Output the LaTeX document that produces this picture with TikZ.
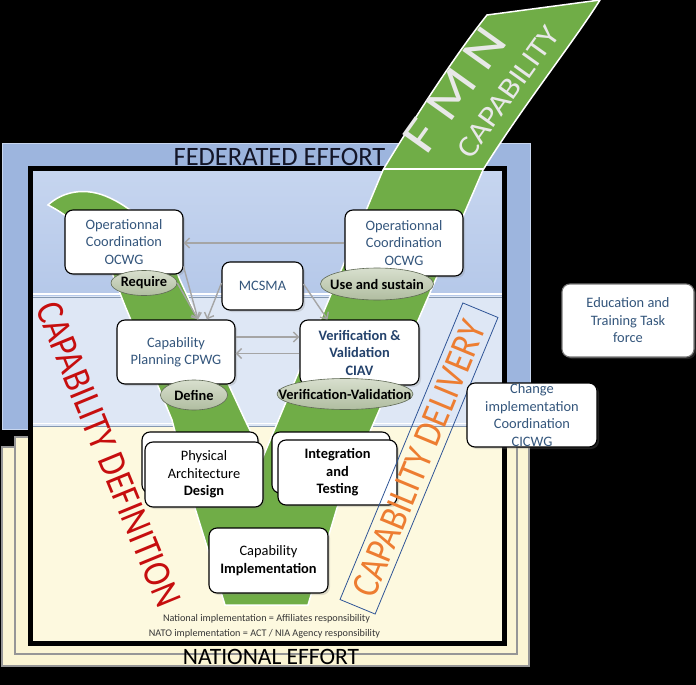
\documentclass[tikz,border=0pt]{standalone}
\usepackage{fontspec}
\setmainfont{Carlito}
\usetikzlibrary{arrows.meta,shapes.geometric,shadows,calc}
\definecolor{vgreen}{RGB}{112,173,71}
\definecolor{fedblue}{RGB}{157,181,222}
\definecolor{fededge}{RGB}{200,214,238}
\definecolor{topblueA}{RGB}{198,213,239}
\definecolor{topblueB}{RGB}{181,200,233}
\definecolor{bandblue}{RGB}{222,231,245}
\definecolor{creamin}{RGB}{253,249,223}
\definecolor{creamout}{RGB}{251,245,212}
\definecolor{panelgray}{RGB}{150,150,150}
\definecolor{sepc}{RGB}{132,151,176}
\definecolor{arrgray}{RGB}{165,165,165}
\definecolor{tblue}{RGB}{52,86,124}
\definecolor{tblueb}{RGB}{36,66,108}
\definecolor{capred}{RGB}{198,14,14}
\definecolor{caporange}{RGB}{237,125,49}
\definecolor{delborder}{RGB}{47,85,151}
\definecolor{ellA}{RGB}{216,223,206}
\definecolor{ellB}{RGB}{176,189,160}
\definecolor{fmnwhite}{RGB}{232,232,232}
\newcommand\bxfont{\fontsize{14.4}{17.5}\selectfont}
\begin{document}
\begin{tikzpicture}[x=1pt,y=-1pt,
  box/.style={draw=black, line width=1.1pt, fill=white, rounded corners=8pt,
    align=center, inner sep=1pt, font=\bxfont,
    drop shadow={opacity=0.25, shadow xshift=2pt, shadow yshift=-2pt}},
  ell/.style={ellipse, draw={rgb,255:red,95;green,105;blue,85}, line width=0.6pt,
    top color=ellA, bottom color=ellB, inner sep=0pt},
  elltxt/.style={font=\bxfont\bfseries, text=black, inner sep=0pt},
  arr/.style={draw=arrgray, line width=1.4pt, -{Straight Barb[length=5pt,width=10pt]}},
  bigtxt/.style={inner sep=0pt}]
\useasboundingbox (0,0) rectangle (696,685);
\fill[black] (0,0) rectangle (696,685);
% national effort panels
\filldraw[fill=creamout, draw=panelgray, line width=1.2pt] (2,447) rectangle (529,666);
\filldraw[fill=creamout, draw=panelgray, line width=1.2pt] (15,437) rectangle (517,654);
% federated effort panel
\filldraw[fill=fedblue, draw=fededge, line width=1pt] (2,143) rectangle (530,429);
% inner regions
\shade[top color=topblueA, bottom color=topblueB] (33,171) rectangle (502,296);
\fill[bandblue] (33,296) rectangle (502,426);
\fill[creamin] (33,426) rectangle (502,641);
\draw[white, line width=1.2pt] (33,294) -- (502,294);
\draw[sepc, line width=1.8pt] (33,297.5) -- (502,297.5);
\draw[white, line width=1.2pt] (33,423.5) -- (502,423.5);
\draw[sepc, line width=1.8pt] (33,426.5) -- (502,426.5);
\draw[black, line width=5pt] (30.5,168.5) rectangle (504.5,643.5);
% titles
\node[bigtxt, font=\fontsize{26.5}{26.5}\selectfont, text={rgb,255:red,20;green,22;blue,40}] (fed) at (279.5,156.5) {FEDERATED EFFORT};
% green V
\fill[vgreen, draw=white, line width=1.5pt]
  (487,15) -- (600,0)
  .. controls (575,40) and (520,110) .. (483,170)
  -- (337,508) -- (308,605) -- (225,605) -- (195,508) -- (172,420) -- (128,313)
  .. controls (118,290) and (110,262) .. (95,242)
  .. controls (80,225) and (62,212) .. (48,205)
  .. controls (62,192) and (85,186) .. (110,198)
  .. controls (140,212) and (165,240) .. (180,280)
  -- (245,420) -- (263,457) -- (383,170)
  .. controls (410,125) and (455,55) .. (487,15) -- cycle;
\draw[white, line width=1.5pt] (383.5,169) -- (483.5,169);
% FMN CAPABILITY banner text
\node[bigtxt, rotate=54.5, text=fmnwhite] (fmn) at (455,90)
  {\fontsize{50}{50}\selectfont\scalebox{1.2}[1]{F\hspace{10pt}M\hspace{10pt}N}};
\node[bigtxt, rotate=54.5, text=fmnwhite] (fmncap) at (508,92)
  {\fontsize{30}{30}\selectfont\scalebox{1.12}[1]{CAPABILITY}};
% boxes
\node[box, minimum width=116, minimum height=61] (padb) at (200,462.5) {};
\node[box, minimum width=118, minimum height=61] (intb) at (331,462.5) {};
\node[box, minimum width=118, minimum height=64, text=tblue] (ocl) at (124,242) {Operationnal\\Coordination\\OCWG};
\node[box, minimum width=118, minimum height=66, text=tblue] (ocr) at (404,243) {Operationnal\\Coordination\\OCWG};
\node[box, minimum width=81, minimum height=48, text=tblue] (mcsma) at (262.5,286) {MCSMA};
\node[box, minimum width=118, minimum height=64, text=tblue] (cpwg) at (176,352) {Capability\\Planning CPWG};
\node[box, minimum width=119, minimum height=65, text=tblueb, font=\bxfont\bfseries] (ciav) at (359.5,352.5) {Verification \&\\Validation\\CIAV};
\node[box, minimum width=118, minimum height=65, text=black] (pad) at (204,474.5) {Physical\\Architecture\\\textbf{Design}};
\node[box, minimum width=119, minimum height=65, text=black, font=\bxfont\bfseries] (intg) at (337.5,472.5) {Integration\\and\\Testing};
\node[box, minimum width=119, minimum height=65, text=black] (impl) at (268.5,560.5) {Capability\\\textbf{Implementation}};
% ellipses
\node[ell, minimum width=66, minimum height=25] (req) at (144,283) {};
\node[elltxt] at (req) {Require};
\node[ell, minimum width=113, minimum height=32] (use) at (377,284) {};
\node[elltxt] at (use) {Use and sustain};
\node[ell, minimum width=67, minimum height=30] (def) at (194,395) {};
\node[elltxt] at (def) {Define};
\node[ell, minimum width=136, minimum height=31] (vv) at (345,394) {};
\node[elltxt] at (vv) {Verification-Validation};
% arrows
\draw[arr] (ocr.west) -- (ocr.west -| ocl.east);
\draw[arr] ([yshift=8pt]ocl.south east) -- ([xshift=22pt]cpwg.north);
\draw[arr] (req.east) -- ([xshift=22pt]cpwg.north);
\draw[arr] ([yshift=3pt]mcsma.west) -- ([xshift=31pt]cpwg.north);
\draw[arr] ([yshift=2pt]mcsma.east) -- ([xshift=-32pt]ciav.north);
\draw[arr] ([yshift=15pt]cpwg.east) -- ([yshift=15pt]cpwg.east -| ciav.west);
\draw[arr] ([yshift=-1pt]ciav.west) -- ([yshift=-1pt]ciav.west -| cpwg.east);
% capability definition
\node[bigtxt, rotate=-67.7, text=capred] (capdef) at (108.5,454.5)
  {\fontsize{34}{34}\selectfont\scalebox{1}[1.15]{CAPABILITY DEFINITION}};
% capability delivery
\node[draw=delborder, line width=0.8pt, rotate=67.5, minimum width=321, minimum height=38, inner sep=0pt] (delbox) at (419,458.5) {};
\node[bigtxt, rotate=67.5, text=caporange] (capdel) at (delbox.center)
  {\fontsize{34}{34}\selectfont\scalebox{1}[1.15]{CAPABILITY DELIVERY}};
% side boxes
\node[box, draw={rgb,255:red,120;green,120;blue,120}, minimum width=132, minimum height=73, text=tblue] (edu) at (628,320.5) {Education and\\Training Task\\force};
\node[box, inner ysep=0pt, minimum width=130, minimum height=64, text=tblue] (cicwg) at (532,415) {Change\\implementation\\Coordination\\CICWG};
% notes
\node[bigtxt, font=\fontsize{10.2}{12}\selectfont, text={rgb,255:red,55;green,55;blue,55}] (nat1) at (266.5,618.5) {National implementation = Affiliates responsibility};
\node[bigtxt, font=\fontsize{10.2}{12}\selectfont, text={rgb,255:red,55;green,55;blue,55}] (nat2) at (264.5,634) {NATO implementation = ACT / NIA Agency responsibility};
\node[bigtxt, font=\fontsize{23.5}{23.5}\selectfont, text=black] (natl) at (271,656.5) {NATIONAL EFFORT};
\end{tikzpicture}
\end{document}
